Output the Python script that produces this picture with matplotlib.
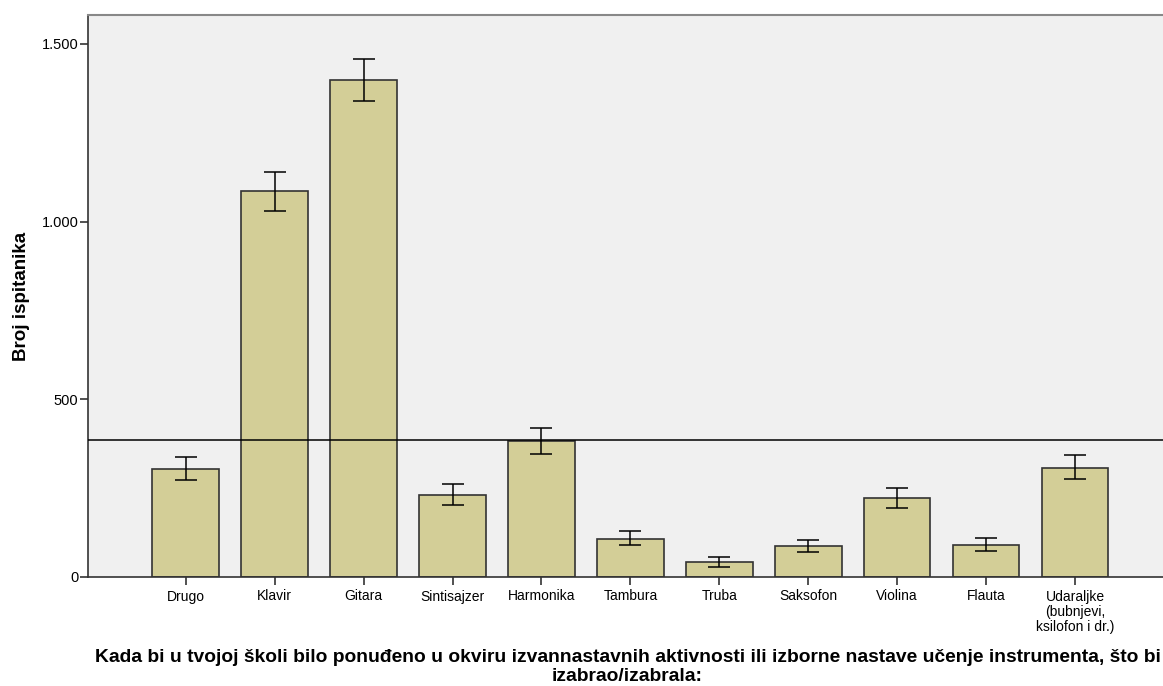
import matplotlib
matplotlib.use("Agg")
import matplotlib.pyplot as plt
from matplotlib.ticker import FuncFormatter

plt.rcParams['font.family'] = ['Liberation Sans', 'DejaVu Sans']

# values
instruments = ["Drugo", "Klavir", "Gitara", "Sintisajzer", "Harmonika", "Tambura",
               "Truba", "Saksofon", "Violina", "Flauta",
               "Udaraljke\n(bubnjevi,\nksilofon i dr.)"]
counts = [304, 1085, 1398, 231, 383, 108, 41, 86, 221, 90, 307]
ci_low = [272, 1030, 1339, 203, 347, 89, 29, 71, 194, 74, 276]
ci_high = [337, 1140, 1458, 261, 420, 129, 55, 105, 251, 110, 343]

mean_count = sum(counts) / len(counts)

fig = plt.figure(figsize=(11.63, 6.86), dpi=100)
ax = fig.add_axes([88 / 1163, 1 - 577 / 686, 1 - 88 / 1163, (577 - 15) / 686])
ax.set_facecolor("#F0F0F0")

x = list(range(len(instruments)))
yerr = [[c - lo for c, lo in zip(counts, ci_low)],
        [hi - c for c, hi in zip(counts, ci_high)]]
ax.bar(x, counts, width=0.75, color="#D3CE97", edgecolor="#333333", linewidth=1.2, zorder=2)
ax.errorbar(x, counts, yerr=yerr, fmt="none", ecolor="black", elinewidth=1.1,
            capsize=8, capthick=1.1, zorder=3)
ax.axhline(mean_count, color="black", linewidth=1.1, zorder=4)

ax.set_xlim(-1.1, 10.99)
ax.set_ylim(0, 1581)
ax.set_xticks(x)
ax.set_xticklabels(instruments, fontsize=10, linespacing=1.1)
ax.set_yticks([0, 500, 1000, 1500])
ax.yaxis.set_major_formatter(FuncFormatter(lambda v, p: f"{int(v):,}".replace(",", ".")))
ax.tick_params(axis="y", labelsize=10.5, length=6, width=1.2, color="#333333", pad=1)
ax.tick_params(axis="x", length=6, width=1.2, color="#333333", pad=3)

for side in ["left", "bottom"]:
    ax.spines[side].set_color("#333333")
    ax.spines[side].set_linewidth(1.2)
ax.spines["top"].set_color("#888888")
ax.spines["top"].set_linewidth(1.5)
ax.spines["right"].set_visible(False)

fig.text(22 / 1163, 1 - 296 / 686, "Broj ispitanika", rotation=90,
         ha="center", va="center", fontsize=13.5, fontweight="bold")
fig.text(627.5 / 1163, 1 - 667 / 686,
         "Kada bi u tvojoj školi bilo ponuđeno u okviru izvannastavnih aktivnosti ili izborne nastave učenje instrumenta, što bi\nizabrao/izabrala:",
         ha="center", va="center", fontsize=13.85, fontweight="bold", linespacing=1.2)

fig.savefig("out.png", dpi=100)
